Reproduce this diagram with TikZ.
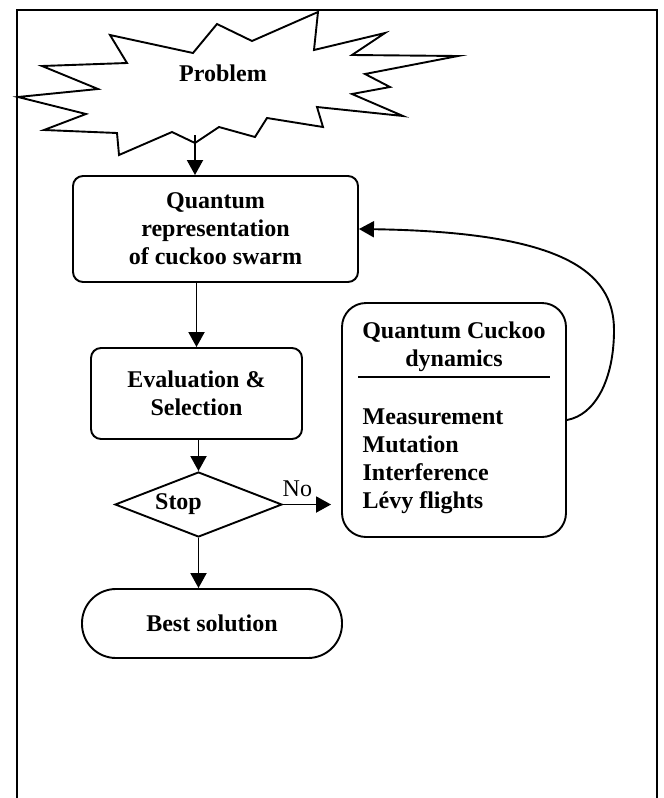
\documentclass[tikz,border=0pt]{standalone}
\usepackage{fontspec}
\setmainfont{Liberation Serif}
\usetikzlibrary{arrows.meta,shapes.geometric}

\begin{document}
\begin{tikzpicture}[>={Triangle[width=8pt,length=7.5pt]},x=0.5pt,y=-0.5pt,
    line width=0.95pt,
    every node/.style={font=\fontsize{12}{14}\selectfont},
    bold/.style={font=\fontsize{12}{14}\selectfont\bfseries},
    stepbox/.style={draw, rectangle, rounded corners=5pt, align=center, bold},
    ]
    \useasboundingbox (0,0) rectangle (664,798);
    \draw[line width=1.4pt] (17,798) -- (17,10) -- (657,10) -- (657,798);
    \draw[line join=miter] (318,12) -- (314,50) -- (385,33) -- (352,55) -- (458,56) -- (365,74)
        -- (390,87) -- (352,94) -- (403,116) -- (317,107) -- (323,127) -- (267,118) -- (255,137)
        -- (219,127) -- (195,143) -- (172,132) -- (119,155) -- (117,133) -- (44,130) -- (86,114)
        -- (18,97) -- (98,89) -- (42,66) -- (127,63) -- (110,35) -- (193,53) -- (217,24) -- (252,41) -- cycle;
    \node[bold] (prob) at (223,73) {Problem};
    \coordinate (probout) at (195,135);
    \node[stepbox, minimum width=142.5pt, minimum height=53pt] (quant) at (215.5,229) {Quantum\\representation\\of cuckoo swarm};
    \node[stepbox, minimum width=105.5pt, minimum height=45.5pt] (eval) at (196.5,393.5) {Evaluation \&\\Selection};
    \node[draw, diamond, aspect=2.57, inner sep=0pt, minimum width=83.5pt, minimum height=32.5pt, bold] (stop) at (198.5,504.5) {Stop\hspace*{20pt}};
    \node[draw, rectangle, rounded corners=17pt, minimum width=130pt, minimum height=34.5pt, bold] (best) at (212,623.5) {Best solution};
    \node[draw, rectangle, rounded corners=12pt, minimum width=112pt, minimum height=117pt] (dyn) at (454,420) {};
    \node[bold, align=center] (dyntitle) at (454,347) {Quantum Cuckoo\\dynamics};
    \node[bold, align=left, anchor=west] (dynlist) at (355,461) {Measurement\\Mutation\\Interference\\Lévy flights};
    \draw (358,377) -- (550,377);
    \draw[->] (probout) -- (probout |- quant.north);
    \draw[->] (eval.north |- quant.south) -- (eval.north);
    \draw[->] (stop.north |- eval.south) -- (stop.north);
    \draw[->] (stop.south) -- (stop.south |- best.north);
    \draw[->] (stop.east) -- ([xshift=-5pt]dyn.west |- stop.east) node[pos=0.3, above] (no) {No};
    \draw[->] (dyn.east) .. controls (595,415) and (614,380) .. (614,330)
        .. controls (614,270) and (560,232) .. (quant.east);
\end{tikzpicture}
\end{document}
